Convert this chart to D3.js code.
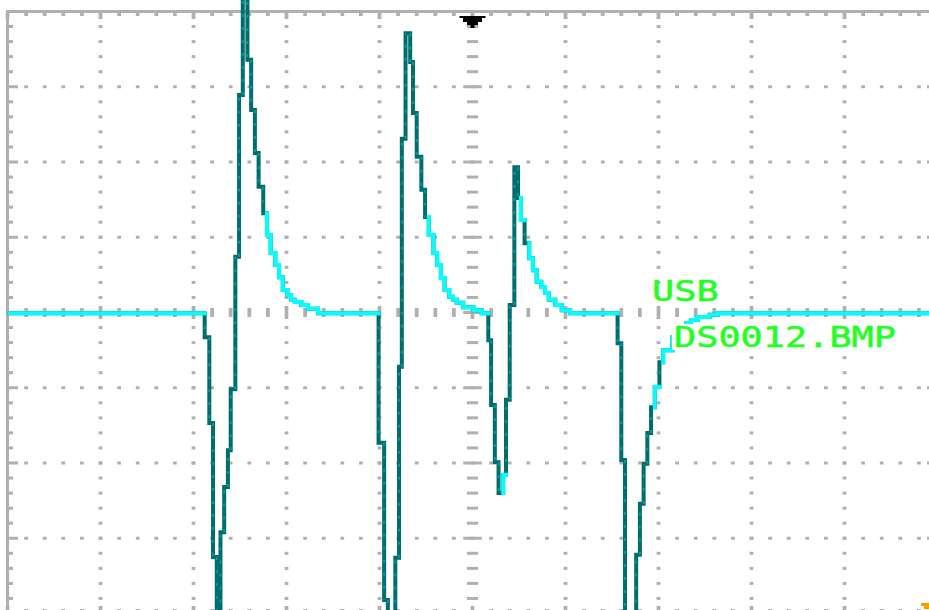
<!DOCTYPE html>
<html>
<head>
<meta charset="utf-8">
<script src="https://cdn.jsdelivr.net/npm/d3@7"></script>
<style>
html, body { margin:0; padding:0; background:#fff; }
svg { display:block; }
</style>
</head>
<body>
<svg width="929" height="610"></svg>
<script>
// trace, in divisions (time, level), held as steps
var traceTime = [-4.98, -2.88, -2.83, -2.79, -2.75, -2.71, -2.67, -2.63, -2.60, -2.55,
  -2.51, -2.47, -2.42, -2.38, -2.34, -2.30, -2.25, -2.21, -2.17, -2.12,
  -2.08, -2.04, -1.99, -1.95, -1.91, -1.84, -1.77, -1.66,
  -1.01, -0.95, -0.91, -0.83, -0.79, -0.76, -0.72, -0.67, -0.64, -0.60,
  -0.55, -0.51, -0.47, -0.42, -0.38, -0.34, -0.30, -0.25, -0.21, -0.17,
  -0.10, 0.01, 0.10,
  0.17, 0.20, 0.24, 0.28, 0.33, 0.36, 0.40, 0.45, 0.49, 0.52,
  0.56, 0.61, 0.65, 0.69, 0.74, 0.78, 0.82, 0.89, 0.96, 1.05,
  1.56, 1.60, 1.64, 1.76, 1.80, 1.84, 1.88, 1.92, 1.96, 2.01,
  2.05, 2.15, 2.23, 2.30, 2.35, 2.42, 2.55, 2.64, 5.1];
var traceLevel = [-0.01, -0.33, -1.47, -3.25, -4.2, -2.92, -2.32, -1.83, -1.02, 0.74,
  2.89, 4.3, 3.36, 2.69, 2.12, 1.67, 1.32, 1.03, 0.79, 0.63,
  0.47, 0.30, 0.23, 0.17, 0.14, 0.10, 0.05, -0.01,
  -1.73, -3.82, -4.2, -3.26, -0.72, 2.31, 3.71, 3.33, 2.65, 2.07,
  1.63, 1.27, 1.03, 0.79, 0.63, 0.46, 0.30, 0.21, 0.17, 0.13,
  0.07, 0.03, -0.01,
  -0.37, -1.23, -1.99, -2.40, -2.16, -1.16, 0.10, 1.93, 1.52, 1.23,
  0.92, 0.72, 0.56, 0.41, 0.34, 0.26, 0.17, 0.10, 0.03, -0.01,
  -0.41, -1.96, -4.2, -3.22, -2.54, -2.01, -1.60, -1.26, -0.99, -0.66,
  -0.50, -0.33, -0.19, -0.14, -0.10, -0.06, -0.03, -0.01, -0.01];

var divsX = [-5, 5], divsY = [-4, 4], minorPerDiv = 5;
var labelLines = ["USB", "DS0012.BMP"];

var gridColor = "#b0b0b0",
    traceDark = "#006c6c",
    traceMid = "#009a9a",
    traceBright = "#00ffff",
    textGreen = "#22ff22";

var svg = d3.select("svg");

var x = d3.scaleLinear().domain(divsX).range([7.5, 937.5]);
var y = d3.scaleLinear().domain(divsY).range([613.5, 11.5]);

var dotW = (x(1) - x(0)) / 25, dotH = 3;

var minorX = d3.range(divsX[0] * minorPerDiv, divsX[1] * minorPerDiv + 1).map(function(i) { return i / minorPerDiv; });
var minorY = d3.range(divsY[0] * minorPerDiv, divsY[1] * minorPerDiv + 1).map(function(i) { return i / minorPerDiv; });
var majorX = d3.range(divsX[0] + 1, divsX[1]);
var majorY = d3.range(divsY[0] + 1, divsY[1]);
function isMajor(v) { return Math.abs(v - Math.round(v)) < 1e-6; }

var grid = svg.append("g").attr("fill", gridColor);

// dots along the vertical division lines
majorX.filter(function(d) { return d != 0; }).forEach(function(gx) {
  grid.selectAll(null)
    .data(minorY.filter(function(d) { return Math.abs(d) < divsY[1] && d != 0; }))
    .enter().append("rect")
    .attr("x", x(gx) - dotW / 2)
    .attr("y", function(d) { return y(d) - dotH / 2; })
    .attr("width", dotW).attr("height", dotH);
});
// dots along the horizontal division lines
majorY.filter(function(d) { return d != 0; }).forEach(function(gy) {
  grid.selectAll(null)
    .data(minorX.filter(function(d) { return Math.abs(d) < divsX[1]; }))
    .enter().append("rect")
    .attr("x", function(d) { return x(d) - dotW / 2; })
    .attr("y", y(gy) - dotH / 2)
    .attr("width", dotW).attr("height", dotH);
});
// centre horizontal axis: short upright ticks
grid.selectAll(null)
  .data(minorX.filter(function(d) { return Math.abs(d) < divsX[1]; }))
  .enter().append("rect")
  .attr("x", function(d) { return x(d) - dotW / 2; })
  .attr("y", function(d) { return y(0) - (isMajor(d) ? 6.5 : 4.5); })
  .attr("width", dotW)
  .attr("height", function(d) { return isMajor(d) ? 13 : 9; });
// centre vertical axis: short flat ticks
grid.selectAll(null)
  .data(minorY.filter(function(d) { return Math.abs(d) < divsY[1]; }))
  .enter().append("rect")
  .attr("x", function(d) { return x(0) - (isMajor(d) ? 2.5 : 1.5) * dotW; })
  .attr("y", function(d) { return y(d) - dotH / 2; })
  .attr("width", function(d) { return (isMajor(d) ? 5 : 3) * dotW; })
  .attr("height", dotH);

// frame with inward ticks
grid.append("rect")
  .attr("x", x(divsX[0])).attr("y", y(divsY[1]))
  .attr("width", x(divsX[1]) - x(divsX[0]))
  .attr("height", y(divsY[0]) - y(divsY[1]))
  .attr("fill", "none").attr("stroke", gridColor).attr("stroke-width", 3);
grid.selectAll(null).data(minorX).enter().append("rect")
  .attr("x", function(d) { return x(d) - dotW / 2; })
  .attr("y", y(divsY[1]) + 1.5)
  .attr("width", dotW)
  .attr("height", function(d) { return isMajor(d) ? 6 : 3; });
grid.selectAll(null).data(minorX).enter().append("rect")
  .attr("x", function(d) { return x(d) - dotW / 2; })
  .attr("y", function(d) { return y(divsY[0]) - 1.5 - (isMajor(d) ? 6 : 3); })
  .attr("width", dotW)
  .attr("height", function(d) { return isMajor(d) ? 6 : 3; });
grid.selectAll(null).data(minorY).enter().append("rect")
  .attr("x", x(divsX[0]) + 1.5)
  .attr("y", function(d) { return y(d) - dotH / 2; })
  .attr("width", function(d) { return isMajor(d) ? 9 : 4; })
  .attr("height", dotH);
grid.selectAll(null).data(minorY).enter().append("rect")
  .attr("x", function(d) { return x(divsX[1]) - 1.5 - (isMajor(d) ? 9 : 4); })
  .attr("y", function(d) { return y(d) - dotH / 2; })
  .attr("width", function(d) { return isMajor(d) ? 9 : 4; })
  .attr("height", dotH);

// trigger position marker
svg.append("path")
  .attr("transform", "translate(" + x(0) + "," + (y(divsY[1]) + 4.5) + ")")
  .attr("d", "M-13,0H13V2H9.5V6H5.5V9H2V12H-2V9H-5.5V6H-9.5V2H-13Z")
  .attr("fill", "#000");

// trace
var pts = traceTime.map(function(t, i) { return [t, traceLevel[i]]; });

var stepLine = d3.line()
  .x(function(d) { return x(d[0]); })
  .y(function(d) { return y(d[1]); })
  .curve(d3.curveStepAfter);

svg.append("path")
  .attr("d", stepLine(pts))
  .attr("fill", "none")
  .attr("stroke", traceDark)
  .attr("stroke-width", 4)
  .attr("stroke-linecap", "square");

// intensity graded overlay: steep walls get speckles, slow parts glow
var walls = d3.path(), glow = d3.path();
for (var i = 0; i < pts.length - 1; i++) {
  var x0 = x(pts[i][0]), x1 = x(pts[i + 1][0]),
      y0 = y(pts[i][1]), y1 = y(pts[i + 1][1]);
  var jumpIn = i == 0 ? 0 : Math.abs(y0 - y(pts[i - 1][1]));
  if (jumpIn < 22) { glow.moveTo(x0, y0); glow.lineTo(x1, y0); }
  if (Math.abs(y1 - y0) < 22) { glow.moveTo(x1, y0); glow.lineTo(x1, y1); }
  else { walls.moveTo(x1, y0); walls.lineTo(x1, y1); }
}
svg.append("path")
  .attr("d", walls.toString())
  .attr("fill", "none")
  .attr("stroke", traceMid)
  .attr("stroke-width", 2)
  .attr("stroke-dasharray", "3 10");
svg.append("path")
  .attr("d", glow.toString())
  .attr("fill", "none")
  .attr("stroke", traceBright)
  .attr("stroke-width", 4)
  .attr("stroke-linecap", "square");

// file name overlay
var labelPos = [[652, 301], [674, 347]];
labelLines.forEach(function(s, i) {
  var len = s.length * 22.2;
  if (i == 1) {
    svg.append("rect")
      .attr("x", labelPos[i][0] - 2).attr("y", labelPos[i][1] - 23)
      .attr("width", len + 4).attr("height", 26)
      .attr("fill", "#fff");
  }
  svg.append("text")
    .attr("x", labelPos[i][0])
    .attr("y", labelPos[i][1])
    .attr("textLength", len)
    .attr("lengthAdjust", "spacingAndGlyphs")
    .style("font-family", "'DejaVu Sans Mono', monospace")
    .style("font-size", "29px")
    .attr("fill", textGreen)
    .attr("stroke", textGreen)
    .attr("stroke-width", 0.5)
    .text(s);
});

// channel marker peeking in at the lower right
svg.append("path")
  .attr("transform", "translate(" + x(divsX[1]) + "," + y(divsY[0]) + ")")
  .attr("d", "M-16.5,-10.5H-8.5V-4.5H-13.5V-7.5H-16.5Z")
  .attr("fill", "#f5a000");
</script>
</body>
</html>
